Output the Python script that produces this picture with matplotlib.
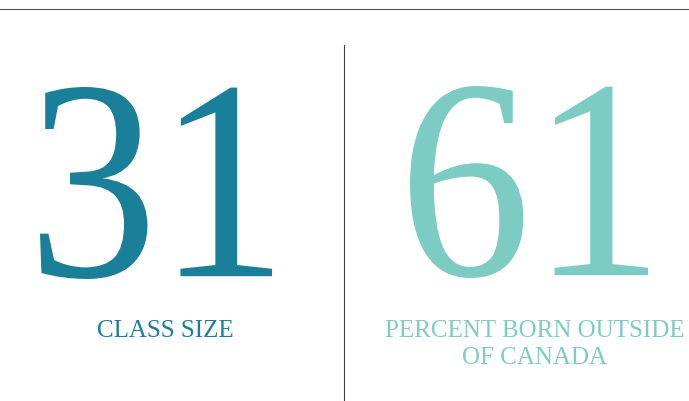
import matplotlib
matplotlib.use("Agg")
from matplotlib import pyplot as plt
from matplotlib.lines import Line2D
from matplotlib.textpath import TextPath
from matplotlib.patches import PathPatch
from matplotlib.font_manager import FontProperties
from matplotlib.transforms import Affine2D

# valores do infografico
numbers = ["31", "61"]
labels = [["CLASS SIZE"], ["PERCENT BORN OUTSIDE", "OF CANADA"]]
colors = ["#1a7f98", "#7dccc3"]

W, H = 689, 401
fig = plt.figure(figsize=(W / 100, H / 100), dpi=100)
fig.patch.set_facecolor("white")

# eixo em pixels (y de baixo pra cima)
ax = fig.add_axes([0, 0, 1, 1])
ax.set_xlim(0, W)
ax.set_ylim(0, H)
ax.axis("off")

# linha de cima e divisoria
ax.add_line(Line2D([0, W], [H - 9, H - 9], color="#555555", lw=0.8))
ax.add_line(Line2D([344, 344], [0, H - 45], color="#444444", lw=0.8))

serif = FontProperties(family="Liberation Serif")

# numeros grandes: centro x, linha de base (px do topo), altura, largura
num_cx = [156, 529]
num_base = [279, 278]
num_h = 192
num_w = [232, 238]
for i in range(len(numbers)):
    tp = TextPath((0, 0), numbers[i], size=100, prop=serif)
    ext = tp.get_extents()
    sx = num_w[i] / ext.width
    sy = num_h / ext.height
    tr = Affine2D().translate(-(ext.x0 + ext.width / 2), -ext.y0).scale(sx, sy) \
        .translate(num_cx[i], H - num_base[i])
    ax.add_patch(PathPatch(tr.transform_path(tp), facecolor=colors[i],
                           edgecolor="none"))

# legendas
lab_cx = [165, 535]
lab_base = [337, 364]
lab_size = [18, 18]
for i in range(len(labels)):
    for j, line in enumerate(labels[i]):
        ax.text(lab_cx[i], H - lab_base[0] - j * (lab_base[1] - lab_base[0]),
                line, ha="center", va="baseline", fontsize=lab_size[i],
                color=colors[i], family="Liberation Serif")

fig.savefig("out.png", dpi=100)
